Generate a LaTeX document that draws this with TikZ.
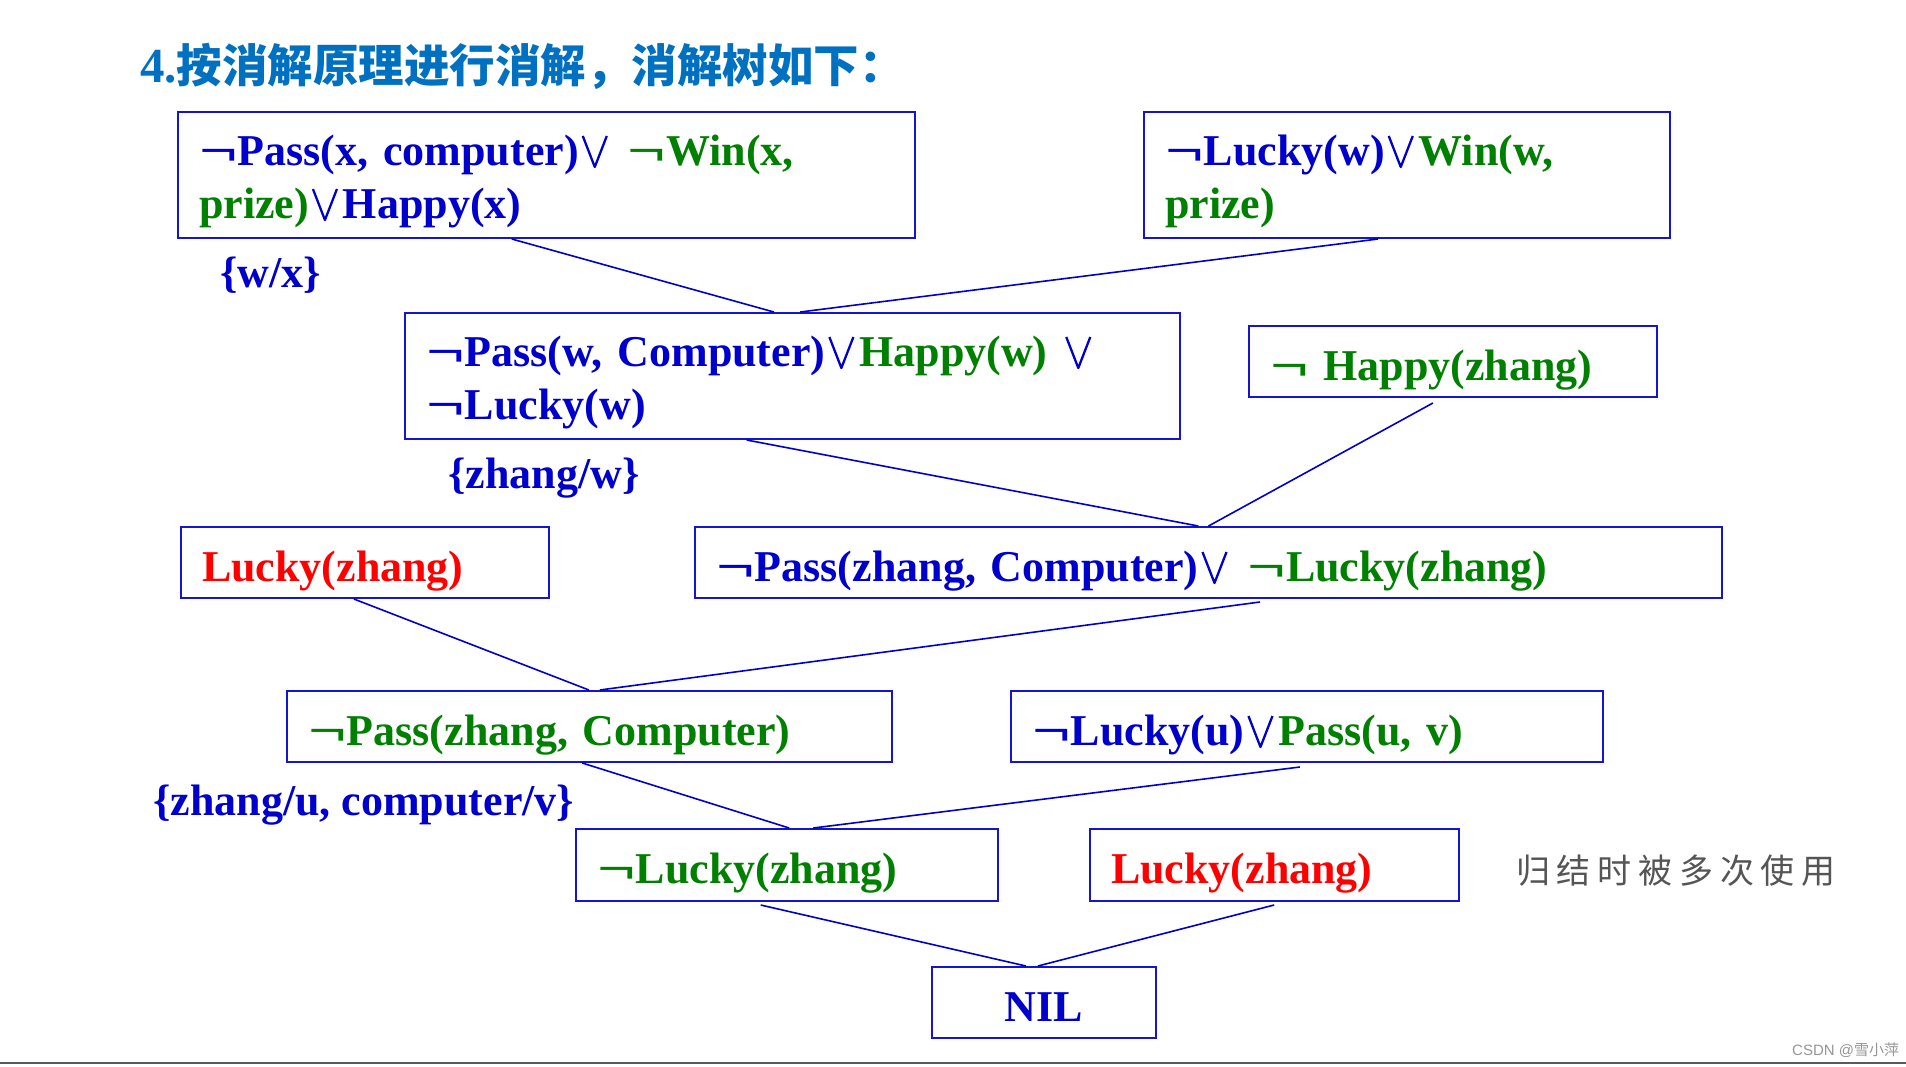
\documentclass[tikz,border=0pt]{standalone}
\usepackage{fontspec}
\usepackage{graphicx}
\setmainfont{Liberation Serif}
\newfontfamily\cjk{Noto Sans CJK SC}
\newfontfamily\cjkg{Noto Sans CJK SC}[LetterSpace=20]
\newfontfamily\wmfont{Liberation Sans}
\usetikzlibrary{calc}
\definecolor{tb}{RGB}{0,0,204}
\definecolor{tg}{RGB}{0,128,0}
\definecolor{tr}{RGB}{255,0,0}
\definecolor{bd}{RGB}{20,20,210}
\definecolor{ttl}{RGB}{0,112,192}
\definecolor{gr}{RGB}{85,85,85}
\definecolor{wmc}{RGB}{150,150,150}
\definecolor{bl}{RGB}{90,90,90}
\newcommand{\orv}{\tikz[baseline=0pt,x=1pt,y=1pt]{\path (0,0) (34,0); \draw[draw=tb,line width=2.3pt,line join=round] (4,29) -- (16,-2) -- (28,29);}}
\newcommand{\nt}{\scalebox{1.55}[1]{¬}}
\newcommand{\tA}{\rule{0pt}{43pt}}
\newcommand{\tS}{\rule{0pt}{47pt}}
\newcommand{\tD}{\rule[-10pt]{0pt}{0pt}}
\begin{document}
\begin{tikzpicture}[x=1pt,y=-1pt,
  box/.style={draw=bd, line width=2pt, anchor=north west, inner xsep=21pt, inner ysep=0pt,
    align=left, text=tb, font=\fontsize{44}{53}\selectfont\bfseries},
  cbox/.style={box, align=center},
  conn/.style={draw=tb, line width=1.6pt},
  lab/.style={anchor=base west, inner sep=0pt, text=tb, font=\fontsize{44}{53}\selectfont\bfseries}]
\useasboundingbox[fill=white] (0,0) rectangle (1906,1066);

% title
\node[anchor=base west, inner sep=0pt, text=ttl, font=\bfseries] (title) at (140,82)
  {{\fontsize{49}{50}\selectfont 4.}{\fontsize{45.5}{50}\selectfont\cjk 按消解原理进行消解，消解树如下：}};

% boxes
\node[box, text width=695pt, minimum height=126pt] (b1) at (177,111)
  {\tA\mbox{\nt Pass(x, computer)\orv\ \textcolor{tg}{\nt Win(x,}}\\\mbox{\textcolor{tg}{prize)}\orv Happy(x)}\tD};
\node[box, text width=484pt, minimum height=126pt] (b2) at (1143,111)
  {\tA\mbox{\nt Lucky(w)\orv\textcolor{tg}{Win(w,}}\\\textcolor{tg}{prize)}\tD};
\node[box, text width=733pt, minimum height=126pt] (b3) at (404,312)
  {\tA\mbox{\nt Pass(w, Computer)\orv\textcolor{tg}{Happy(w)} \orv}\\\nt Lucky(w)\tD};
\node[box, text width=366pt, minimum height=71pt] (b4) at (1248,325)
  {\tS\mbox{\textcolor{tg}{\nt\ Happy(zhang)}}\tD};
\node[box, text width=326pt, minimum height=71pt] (b5) at (180,526)
  {\tS\textcolor{tr}{Lucky(zhang)}\tD};
\node[box, text width=985pt, minimum height=71pt] (b6) at (694,526)
  {\tS\mbox{\nt Pass(zhang, Computer)\orv\ \textcolor{tg}{\nt Lucky(zhang)}}\tD};
\node[box, text width=563pt, minimum height=71pt] (b7) at (286,690)
  {\tS\mbox{\textcolor{tg}{\nt Pass(zhang, Computer)}}\tD};
\node[box, text width=550pt, minimum height=71pt] (b8) at (1010,690)
  {\tS\mbox{\nt Lucky(u)\orv\textcolor{tg}{Pass(u, v)}}\tD};
\node[box, text width=380pt, minimum height=72pt] (b9) at (575,828)
  {\tS\textcolor{tg}{\nt Lucky(zhang)}\tD};
\node[box, text width=327pt, minimum height=72pt] (b10) at (1089,828)
  {\tS\textcolor{tr}{Lucky(zhang)}\tD};
\node[cbox, text width=182pt, minimum height=71pt] (b11) at (931,966)
  {\tS NIL\tD};

% substitution labels
\node[lab] (s1) at (220,287) {\{w/x\}};
\node[lab] (s2) at (448,488) {\{zhang/w\}};
\node[lab] (s3) at (153,815) {\{zhang/u, computer/v\}};

% note
\node[anchor=base west, inner sep=0pt, text=gr, font=\fontsize{34}{40}\selectfont\cjkg] (note) at (1516,883) {归结时被多次使用};

% connectors
\draw[conn] ($(b1.south west)!0.453!(b1.south east)$) -- ($(b3.north west)!0.476!(b3.north east)$);
\draw[conn] ($(b2.south west)!0.445!(b2.south east)$) -- ($(b3.north west)!0.510!(b3.north east)$);
\draw[conn] ($(b3.south west)!0.441!(b3.south east)$) -- ($(b6.north west)!0.490!(b6.north east)$);
\draw[conn] ($(b4.south west)!0.451!(b4.south east)+(0,5)$) -- ($(b6.north west)!0.500!(b6.north east)$);
\draw[conn] ($(b5.south west)!0.470!(b5.south east)$) -- ($(b7.north west)!0.499!(b7.north east)$);
\draw[conn] ($(b6.south west)!0.550!(b6.south east)+(0,3)$) -- ($(b7.north west)!0.517!(b7.north east)$);
\draw[conn] ($(b7.south west)!0.488!(b7.south east)$) -- ($(b9.north west)!0.505!(b9.north east)$);
\draw[conn] ($(b8.south west)!0.488!(b8.south east)+(0,4)$) -- ($(b9.north west)!0.562!(b9.north east)$);
\draw[conn] ($(b9.south west)!0.438!(b9.south east)+(0,3)$) -- ($(b11.north west)!0.420!(b11.north east)$);
\draw[conn] ($(b10.south west)!0.499!(b10.south east)+(0,3)$) -- ($(b11.north west)!0.473!(b11.north east)$);

% watermark and bottom rule
\node[anchor=base west, inner sep=0pt, text=wmc, font=\fontsize{15}{18}\selectfont\wmfont] (wm) at (1792,1055) {CSDN @{\cjk 雪小萍}};
\draw[draw=bl, line width=2pt] (0,1063) -- (1906,1063);
\end{tikzpicture}
\end{document}
